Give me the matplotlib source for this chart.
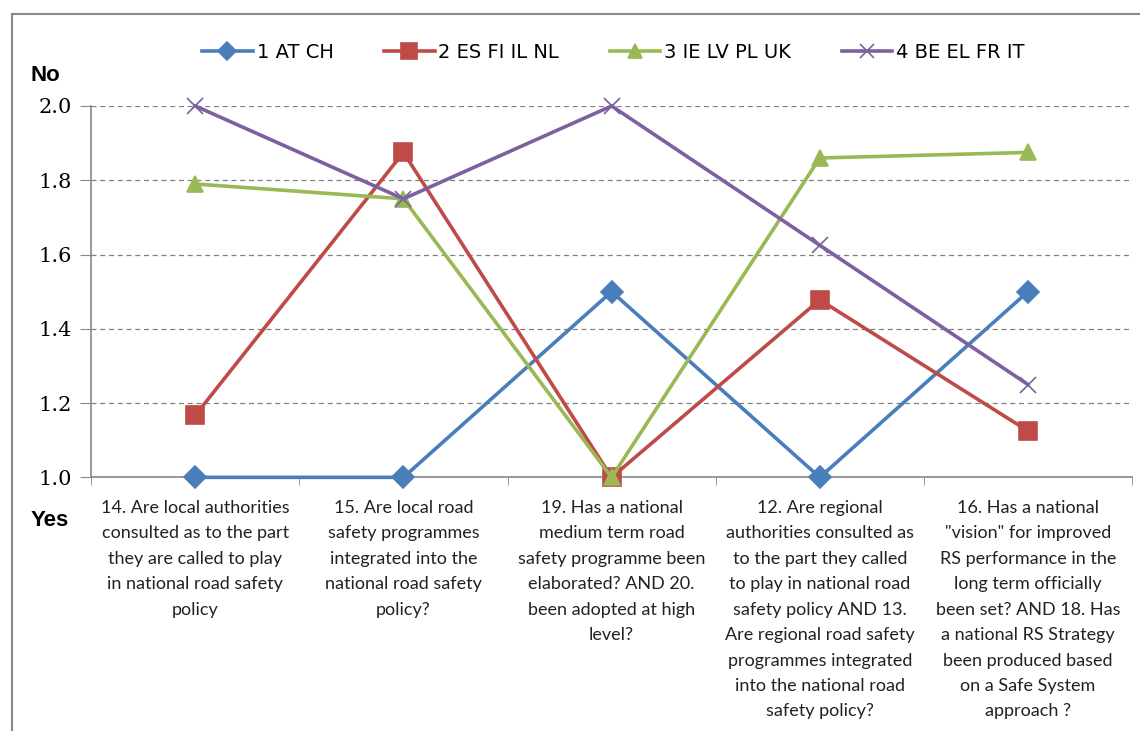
import numpy as np
import matplotlib
matplotlib.use('Agg')
import matplotlib.pyplot as plt
from matplotlib.patches import Rectangle

# data (1 = Yes, 2 = No)
questions = [
    '14. Are local authorities\nconsulted as to the part\nthey are called to play\nin national road safety\npolicy',
    '15. Are local road\nsafety programmes\nintegrated into the\nnational road safety\npolicy?',
    '19. Has a national\nmedium term road\nsafety programme been\nelaborated? AND 20.\nbeen adopted at high\nlevel?',
    '12. Are regional\nauthorities consulted as\nto the part they called\nto play in national road\nsafety policy AND 13.\nAre regional road safety\nprogrammes integrated\ninto the national road\nsafety policy?',
    '16. Has a national\n"vision" for improved\nRS performance in the\nlong term officially\nbeen set? AND 18. Has\na national RS Strategy\nbeen produced based\non a Safe System\napproach ?',
]
series_names = ['1 AT CH', '2 ES FI IL NL', '3 IE LV PL UK', '4 BE EL FR IT']
grp1 = [1.0, 1.0, 1.5, 1.0, 1.5]
grp2 = [1.167, 1.875, 1.0, 1.478, 1.125]
grp3 = [1.79, 1.75, 1.0, 1.86, 1.875]
grp4 = [2.0, 1.75, 2.0, 1.625, 1.25]
yticks = [1.0, 1.2, 1.4, 1.6, 1.8, 2.0]

colors = ['#4A7EBB', '#BE4B48', '#98B954', '#7D60A0']
markers = ['D', 's', '^', 'x']
msizes = [11, 13, 12, 12]

fig = plt.figure(figsize=(11.4, 7.31), dpi=100)
ax = fig.add_axes([0.080, 0.347, 0.913, 0.508])

x = np.arange(len(questions))
for vals, name, c, m, ms in zip([grp1, grp2, grp3, grp4], series_names, colors, markers, msizes):
    ax.plot(x, vals, color=c, lw=2.6, marker=m, ms=ms, mew=1.2,
            label=name, clip_on=False, zorder=3)

ax.set_xlim(-0.5, len(questions) - 0.5)
ax.set_ylim(1.0, 2.0)
ax.set_yticks(yticks)
ax.set_yticklabels(['%.1f' % v for v in yticks], family='DejaVu Serif', fontsize=15)
ax.yaxis.grid(True, ls=(0, (4, 3)), color='#808080', lw=0.9)
ax.set_axisbelow(True)

ax.set_xticks(x)
ax.set_xticklabels(questions, family='Lato', fontsize=13, color='#222222', linespacing=1.73, va='top')
ax.set_xticks(np.arange(len(questions) + 1) - 0.5, minor=True)
ax.tick_params(axis='x', which='major', length=0, pad=16)
ax.tick_params(axis='x', which='minor', length=6, color='#888888', direction='out')
ax.tick_params(axis='y', length=8, color='#888888', pad=6)

for s in ['top', 'right']:
    ax.spines[s].set_visible(False)
for s in ['left', 'bottom']:
    ax.spines[s].set_color('#888888')
    ax.spines[s].set_linewidth(1.2)

leg = fig.legend(loc='center', bbox_to_anchor=(0.538, 0.928), ncol=4, frameon=False,
                 prop={'family': 'DejaVu Sans', 'size': 14}, handlelength=2.6,
                 columnspacing=2.6, handletextpad=0.2, markerscale=0.85)

fig.text(0.027, 0.897, 'No', family='Liberation Sans', weight='bold', fontsize=16, va='center')
fig.text(0.027, 0.288, 'Yes', family='Liberation Sans', weight='bold', fontsize=16, va='center')

# outer chart frame
fig.patches.append(Rectangle((12 / 1140, -0.05), 1.1, 0.05 + 1 - 14 / 731, transform=fig.transFigure,
                             fill=False, edgecolor='#888888', lw=1.5))

fig.savefig('out.png', dpi=100)
